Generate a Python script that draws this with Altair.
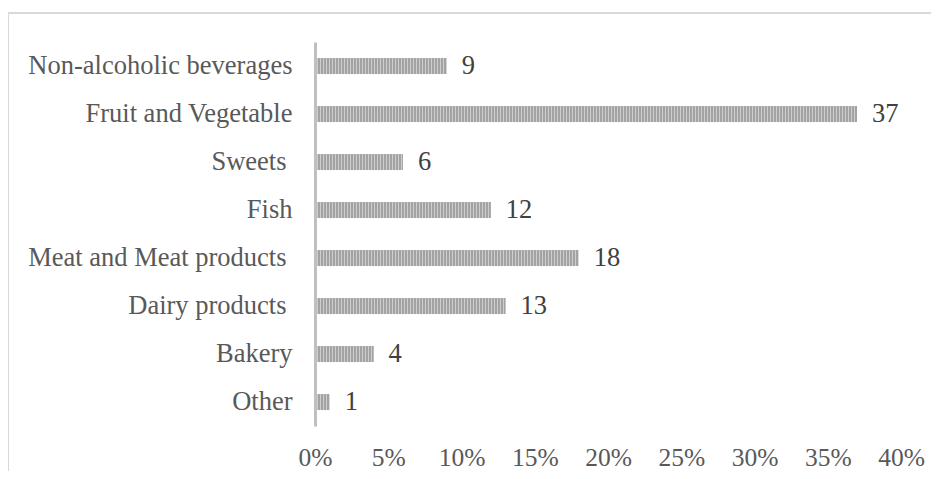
import altair as alt
import pandas as pd

categories = [
    "Non-alcoholic beverages",
    "Fruit and Vegetable",
    "Sweets ",
    "Fish",
    "Meat and Meat products ",
    "Dairy products ",
    "Bakery",
    "Other",
]
values = [9, 37, 6, 12, 18, 13, 4, 1]
x_ticks = [0, 5, 10, 15, 20, 25, 30, 35, 40]

df = pd.DataFrame({"category": categories, "value": values})

FONT = "'Liberation Serif', 'Times New Roman', 'DejaVu Serif', serif"

y_enc = alt.Y(
    "category:N",
    sort=categories,
    scale=alt.Scale(paddingInner=0.667, paddingOuter=0.333),
    axis=alt.Axis(
        title=None,
        domain=True,
        domainColor="#bfbfbf",
        domainWidth=3,
        ticks=False,
        labelPadding={
            "condition": {
                "test": "substring(datum.value, length(datum.value) - 1) == ' '",
                "value": 29,
            },
            "value": 23,
        },
        labelLimit=0,
        labelFont=FONT,
        labelFontSize=26.5,
        labelColor="#595959",
        zindex=1,
    ),
)

x_enc = alt.X(
    "value:Q",
    scale=alt.Scale(domain=[0, 40], nice=False),
    axis=alt.Axis(
        title=None,
        values=x_ticks,
        labelExpr="datum.value + '%'",
        domain=False,
        ticks=False,
        grid=False,
        labelFlush=False,
        labelOverlap=False,
        labelPadding=19,
        labelFont=FONT,
        labelFontSize=25.5,
        labelColor="#595959",
    ),
)

base = alt.Chart(df)

bars = base.mark_bar(color="#cdcdcd").encode(y=y_enc, x=x_enc)

stripes = (
    base.transform_calculate(start="0")
    .mark_rule(color="#a3a3a3", strokeWidth=16, strokeDash=[2, 1])
    .encode(y=alt.Y("category:N", sort=categories), x="start:Q", x2="value:Q")
)

labels = base.mark_text(
    align="left", baseline="middle", dx=15, font=FONT, fontSize=26.5, color="#404040"
).encode(y=alt.Y("category:N", sort=categories), x="value:Q", text="value:Q")

frame_df = pd.DataFrame({"k": [0]})
top_line = alt.Chart(frame_df).mark_rule(color="#d9d9d9", strokeWidth=2).encode(
    x=alt.value(-307), x2=alt.value(616), y=alt.value(-29)
)
left_line = alt.Chart(frame_df).mark_rule(color="#d9d9d9", strokeWidth=2).encode(
    x=alt.value(-307), y=alt.value(-29), y2=alt.value(429)
)

chart = (
    alt.layer(top_line, left_line, bars, stripes, labels)
    .properties(
        width=586,
        height=384,
        padding={"left": 307, "top": 34, "right": 30, "bottom": 45},
        autosize=alt.AutoSizeParams(type="none"),
    )
    .configure_view(stroke=None)
)

chart.save("out.html", embed_options={"renderer": "svg", "actions": False})
